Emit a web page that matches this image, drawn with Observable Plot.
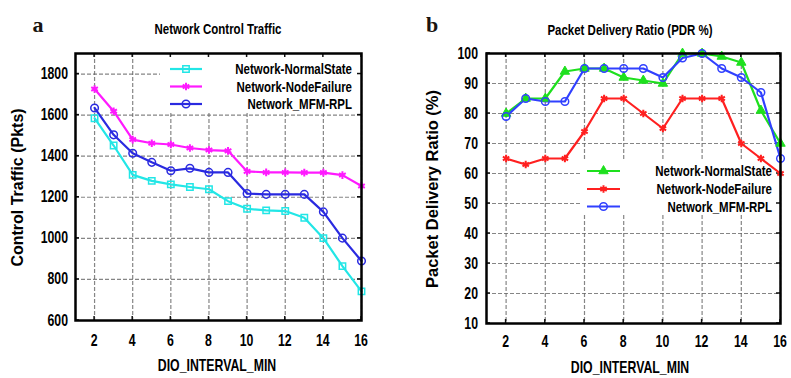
<!DOCTYPE html>
<html>
<head>
<meta charset="utf-8">
<script src="https://cdn.jsdelivr.net/npm/d3@7"></script>
<script src="https://cdn.jsdelivr.net/npm/@observablehq/plot@0.6"></script>
<style>
html,body{margin:0;padding:0;background:#fff;}
#wrap{display:flex;width:791px;height:378px;overflow:hidden;}
#wrap svg{display:block;}
</style>
</head>
<body>
<div id="wrap"></div>
<script>
const dioInterval = [2,3,4,5,6,7,8,9,10,11,12,13,14,15,16];
const xTickValues = [2,4,6,8,10,12,14,16];
const ctrlTickValues = [600,800,1000,1200,1400,1600,1800];
const pdrTickValues = [10,20,30,40,50,60,70,80,90,100];
const seriesNames = ["Network-NormalState","Network-NodeFailure","Network_MFM-RPL"];

const ctrlNormal  = [1585,1452,1309,1280,1263,1250,1239,1181,1144,1136,1133,1100,1001,865,742];
const ctrlFailure = [1727,1619,1481,1463,1457,1440,1430,1426,1326,1321,1321,1320,1320,1308,1255];
const ctrlMfm     = [1635,1504,1414,1370,1329,1341,1321,1321,1218,1214,1214,1214,1129,1001,890];

const pdrNormal  = [80,85,85,94,95,95,92,91,90,100,100,99,97,81,70];
const pdrFailure = [65,63,65,65,74,85,85,80,75,85,85,85,70,65,60];
const pdrMfm     = [79,85,84,84,95,95,95,95,92,98.5,100,95,92,87,65];

const panelLetters = ["a","b"];
const panelTitles = ["Network Control Traffic","Packet Delivery Ratio (PDR %)"];
const yLabels = ["Control Traffic (Pkts)","Packet Delivery Ratio (%)"];
const xLabel = "DIO_INTERVAL_MIN";

const SANS = '"Liberation Sans", Arial, sans-serif';
const SERIF = '"Liberation Serif", "DejaVu Serif", serif';
const KX = 0.82, KY = 1.1;
const symbolTypes = {square:d3.symbolSquare, circle:d3.symbolCircle, triangle:d3.symbolTriangle, asterisk:d3.symbolAsterisk, times:d3.symbolTimes};

// condensed, slightly tall text placed at (x, y)
function ctext(g, x, y, str, size, anchor){
  return g.append("text")
    .attr("transform", `translate(${x},${y}) scale(${KX},${KY})`)
    .attr("text-anchor", anchor).attr("font-size", size).attr("fill", "#000").text(str);
}

function build(cfg){
  const series = cfg.series;
  const lg = cfg.legend, an = cfg.ann;
  const legendBg = (index, scales, values, dim) => {
    const R = dim.width - dim.marginRight, T = dim.marginTop;
    const [x0,y0,x1,y1] = lg.bg;
    return d3.create("svg:rect").attr("x",R+x0).attr("y",T+y0).attr("width",x1-x0).attr("height",y1-y0).attr("fill","#fff").node();
  };
  const frameTicks = (index, scales, values, dim) => {
    const L = dim.marginLeft, R = dim.width - dim.marginRight, T = dim.marginTop, B = dim.height - dim.marginBottom;
    const g = d3.create("svg:g").attr("stroke","#111").attr("stroke-width",1.5);
    xTickValues.forEach(v => {
      const x = scales.x(v);
      g.append("line").attr("x1",x).attr("x2",x).attr("y1",B).attr("y2",B-4);
      g.append("line").attr("x1",x).attr("x2",x).attr("y1",T).attr("y2",T+4);
    });
    cfg.yTicks.forEach(v => {
      const y = scales.y(v);
      g.append("line").attr("x1",L).attr("x2",L+4).attr("y1",y).attr("y2",y);
      g.append("line").attr("x1",R).attr("x2",R-4).attr("y1",y).attr("y2",y);
    });
    return g.node();
  };
  const legendItems = (index, scales, values, dim) => {
    const R = dim.width - dim.marginRight, T = dim.marginTop;
    const g = d3.create("svg:g");
    series.forEach((s,i) => {
      const cy = T + lg.rows[i];
      g.append("line").attr("x1",R+lg.x1).attr("x2",R+lg.x2).attr("y1",cy).attr("y2",cy).attr("stroke",s.color).attr("stroke-width",2.2);
      g.append("path").attr("transform",`translate(${R+(lg.x1+lg.x2)/2},${cy})`)
        .attr("d", d3.symbol(symbolTypes[s.symbol], Math.PI*s.r*s.r)())
        .attr("fill", s.fill).attr("stroke", s.color).attr("stroke-width", s.sw);
      ctext(g, R+lg.textRight, cy+5, s.name, 14, "end");
    });
    return g.node();
  };
  const annotations = (index, scales, values, dim) => {
    const L = dim.marginLeft, R = dim.width - dim.marginRight, T = dim.marginTop, B = dim.height - dim.marginBottom;
    const g = d3.create("svg:g").attr("fill","#000");
    // tick labels from the plot's own scales
    xTickValues.forEach(v => ctext(g, scales.x(v), B + cfg.xTickBase, String(v), 15, "middle"));
    cfg.yTicks.forEach(v => ctext(g, L - cfg.yPad, scales.y(v) + 5.5, String(v), 15, "end"));
    g.append("text").attr("x",L+an.letter[0]).attr("y",T+an.letter[1]).attr("text-anchor","middle")
      .attr("font-family",SERIF).attr("font-size",22).attr("fill","#1a1410").text(cfg.letter);
    ctext(g, (L+R)/2+an.title[0], T+an.title[1], cfg.title, 14, "middle");
    ctext(g, (L+R)/2+an.xlabel[0], B+an.xlabel[1], xLabel, 15, "middle");
    g.append("text").attr("transform",`translate(${L+an.ylabel[0]},${(T+B)/2+an.ylabel[1]}) rotate(-90)`)
      .attr("text-anchor","middle").attr("font-size",an.ylabelSize).text(cfg.ylabel);
    return g.node();
  };
  const gridStyle = {stroke:"#666", strokeOpacity:0.8, strokeDasharray:"4,2", strokeWidth:1.2};
  return Plot.plot({
    width: cfg.width, height: 378,
    marginLeft: cfg.margin[0], marginRight: cfg.margin[1], marginTop: cfg.margin[2], marginBottom: cfg.margin[3],
    style: {fontFamily: SANS, fontWeight: "bold", background: "#fff", color: "#000"},
    x: {domain: [1,16], axis: null},
    y: {domain: cfg.yDomain, axis: null},
    marks: [
      Plot.gridX(xTickValues, gridStyle),
      Plot.gridY(cfg.yTicks, gridStyle),
      legendBg,
      frameTicks,
      ...series.map(s => Plot.line(dioInterval, {x: d => d, y: (d,i) => s.values[i], stroke: s.color, strokeWidth: 2.2})),
      ...series.map(s => Plot.dot(dioInterval, {x: d => d, y: (d,i) => s.values[i], symbol: s.symbol, r: s.r, stroke: s.color, fill: s.fill, strokeWidth: s.sw})),
      Plot.frame({stroke: "#000", strokeWidth: 2.5}),
      legendItems,
      annotations
    ]
  });
}

const panelA = build({
  width: 395, margin: [75, 34, 53, 58], yDomain: [600, 1900], yTicks: ctrlTickValues,
  xTickBase: 25.5, yPad: 7,
  letter: panelLetters[0], title: panelTitles[0], ylabel: yLabels[0],
  series: [
    {name: seriesNames[0], values: ctrlNormal,  color: "#22e6e6", symbol: "square",   r: 3.6, fill: "none", sw: 1.5},
    {name: seriesNames[1], values: ctrlFailure, color: "#ff1aff", symbol: "asterisk", r: 3.6, fill: "none", sw: 2},
    {name: seriesNames[2], values: ctrlMfm,     color: "#2a2ae0", symbol: "circle",   r: 3.8, fill: "none", sw: 1.5}
  ],
  legend: {bg: [-201, 0, 0, 58], rows: [16, 33.5, 51], x1: -191, x2: -159, textRight: -9},
  ann: {letter: [-37, -21], title: [0, -19.5], xlabel: [-1, 51], ylabel: [-52, 1], ylabelSize: 16}
});

const panelB = build({
  width: 396, margin: [91, 11, 53, 55], yDomain: [10, 100], yTicks: pdrTickValues,
  xTickBase: 23.5, yPad: 8,
  letter: panelLetters[1], title: panelTitles[1], ylabel: yLabels[1],
  series: [
    {name: seriesNames[0], values: pdrNormal,  color: "#1ee01e", symbol: "triangle", r: 3.5, fill: "#1ee01e", sw: 1},
    {name: seriesNames[1], values: pdrFailure, color: "#ff2020", symbol: "asterisk", r: 3.5, fill: "none", sw: 2},
    {name: seriesNames[2], values: pdrMfm,     color: "#3040ff", symbol: "circle",   r: 3.8, fill: "none", sw: 1.5}
  ],
  legend: {bg: [-200, 107, 0, 160], rows: [118, 136, 153.5], x1: -193, x2: -160, textRight: -8},
  ann: {letter: [-54, -21], title: [-3, -18], xlabel: [-3, 50], ylabel: [-48, 1], ylabelSize: 16.5}
});

document.getElementById("wrap").append(panelA, panelB);
</script>
</body>
</html>
